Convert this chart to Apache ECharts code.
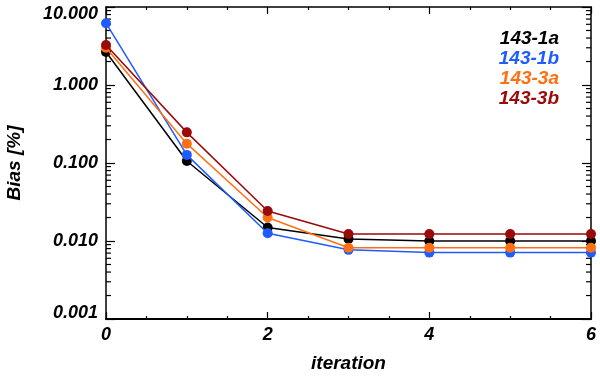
<!DOCTYPE html>
<html>
<head>
<meta charset="utf-8">
<script src="https://cdn.jsdelivr.net/npm/echarts@6/dist/echarts.min.js"></script>
<style>html,body{margin:0;padding:0;background:#fff}#c{width:600px;height:378px}</style>
</head>
<body>
<div id="c"></div>
<script>
var iterations = [0, 1, 2, 3, 4, 5, 6];
var seriesNames = ['143-1a', '143-1b', '143-3a', '143-3b'];
var bias_143_1a = [2.65, 0.106, 0.0149, 0.0106, 0.0100, 0.0100, 0.0100];
var bias_143_1b = [6.2, 0.127, 0.0126, 0.0077, 0.0071, 0.0071, 0.0071];
var bias_143_3a = [3.0, 0.177, 0.0200, 0.0082, 0.0082, 0.0082, 0.0082];
var bias_143_3b = [3.25, 0.247, 0.0243, 0.0123, 0.0123, 0.0123, 0.0123];
var seriesColors = ['#000000', '#1f5cff', '#ff7014', '#990a0a'];
var yTickLabels = {'10': '10.000', '1': '1.000', '0.1': '0.100', '0.01': '0.010', '0.001': '0.001'};

// minor log ticks (2..9 within each decade)
var minorTickVals = [];
[-3, -2, -1, 0].forEach(function (k) {
  for (var m = 2; m <= 9; m++) minorTickVals.push(+(m * Math.pow(10, k)).toPrecision(3));
});

var FONT = 'Liberation Sans';
var allData = [bias_143_1a, bias_143_1b, bias_143_3a, bias_143_3b];

function fmtY(v) {
  var key = String(+v.toPrecision(3));
  var s = yTickLabels[key];
  if (s === undefined) return '';
  if (key === '10') return '{t|' + s + '}';
  if (key === '0.001') return '{b|' + s + '}';
  return '{n|' + s + '}';
}
var richLabel = {
  t: {fontFamily: FONT, fontSize: 18, fontWeight: 'bold', fontStyle: 'italic', color: '#000', padding: [14, 0, 0, 0]},
  b: {fontFamily: FONT, fontSize: 18, fontWeight: 'bold', fontStyle: 'italic', color: '#000', padding: [0, 0, 12, 0]},
  n: {fontFamily: FONT, fontSize: 18, fontWeight: 'bold', fontStyle: 'italic', color: '#000'}
};

var series = seriesNames.map(function (name, i) {
  return {
    name: name,
    type: 'line',
    xAxisIndex: 0, yAxisIndex: 0,
    data: iterations.map(function (x, j) { return [x, allData[i][j]]; }),
    symbol: 'circle',
    symbolSize: 10,
    lineStyle: {color: seriesColors[i], width: 1.5},
    itemStyle: {color: seriesColors[i]},
    z: 3 + i
  };
});

series.push({
  type: 'custom',
  name: 'minorTicks',
  coordinateSystem: 'cartesian2d',
  xAxisIndex: 0, yAxisIndex: 0,
  silent: true,
  clip: false,
  encode: {x: 0, y: 1},
  data: minorTickVals.map(function (v) { return [0, v]; }),
  renderItem: function (params, api) {
    var v = api.value(1);
    var pl = api.coord([0, v]);
    var pr = api.coord([6, v]);
    return {
      type: 'group',
      children: [
        {type: 'line', shape: {x1: pl[0], y1: pl[1], x2: pl[0] + 5, y2: pl[1]}, style: {stroke: '#000', lineWidth: 1.2, fill: null}},
        {type: 'line', shape: {x1: pr[0], y1: pr[1], x2: pr[0] - 5, y2: pr[1]}, style: {stroke: '#000', lineWidth: 1.2, fill: null}}
      ]
    };
  },
  z: 2
});

var chart = echarts.init(document.getElementById('c'), null, {renderer: 'canvas'});
chart.setOption({
  backgroundColor: '#fff',
  animation: false,
  grid: {left: 106, right: 9, top: 7, bottom: 59, outerBoundsMode: 'none', containLabel: false},
  legend: {
    data: seriesNames.map(function (n, i) {
      return {name: n, icon: 'none', textStyle: {color: seriesColors[i]}};
    }),
    orient: 'vertical',
    right: 36,
    top: 29,
    itemWidth: 0,
    itemHeight: 10,
    itemGap: 0,
    align: 'right',
    padding: 0,
    selectedMode: false,
    textStyle: {fontFamily: FONT, fontSize: 19, fontWeight: 'bold', fontStyle: 'italic', padding: 0, lineHeight: 20}
  },
  xAxis: [{
    type: 'value', min: 0, max: 6, interval: 2,
    position: 'bottom',
    name: 'iteration', nameLocation: 'middle', nameGap: 35,
    nameTextStyle: {fontFamily: FONT, fontSize: 19, fontWeight: 'bold', fontStyle: 'italic', color: '#000'},
    axisLine: {show: true, onZero: false, lineStyle: {color: '#000', width: 2}},
    axisTick: {show: true, inside: true, length: 7, lineStyle: {color: '#000', width: 1.2}},
    minorTick: {show: true, splitNumber: 4, length: 3, lineStyle: {color: '#000', width: 1.2}},
    axisLabel: {margin: 7, fontFamily: FONT, fontSize: 18, fontWeight: 'bold', fontStyle: 'italic', color: '#000'},
    splitLine: {show: false}
  }, {
    type: 'value', min: 0, max: 6, interval: 2,
    position: 'top',
    axisLine: {show: true, onZero: false, lineStyle: {color: '#000', width: 1.5}},
    axisTick: {show: true, inside: true, length: 7, lineStyle: {color: '#000', width: 1.2}},
    minorTick: {show: true, splitNumber: 4, length: 3, lineStyle: {color: '#000', width: 1.2}},
    axisLabel: {show: false},
    splitLine: {show: false}
  }],
  yAxis: [{
    type: 'log', logBase: 10, min: 0.001, max: 10,
    position: 'left',
    name: 'Bias [%]', nameLocation: 'middle', nameGap: 82, nameRotate: 90,
    nameTextStyle: {fontFamily: FONT, fontSize: 19, fontWeight: 'bold', fontStyle: 'italic', color: '#000'},
    axisLine: {show: true, onZero: false, lineStyle: {color: '#000', width: 1.5}},
    axisTick: {show: true, inside: true, length: 9, lineStyle: {color: '#000', width: 1.2}},
    axisLabel: {margin: 8, formatter: fmtY, rich: richLabel, showMinLabel: true, showMaxLabel: true},
    splitLine: {show: false}
  }, {
    type: 'log', logBase: 10, min: 0.001, max: 10,
    position: 'right',
    axisLine: {show: true, onZero: false, lineStyle: {color: '#000', width: 1.5}},
    axisTick: {show: true, inside: true, length: 9, lineStyle: {color: '#000', width: 1.2}},
    axisLabel: {show: false},
    splitLine: {show: false}
  }],
  series: series
});
</script>
</body>
</html>
